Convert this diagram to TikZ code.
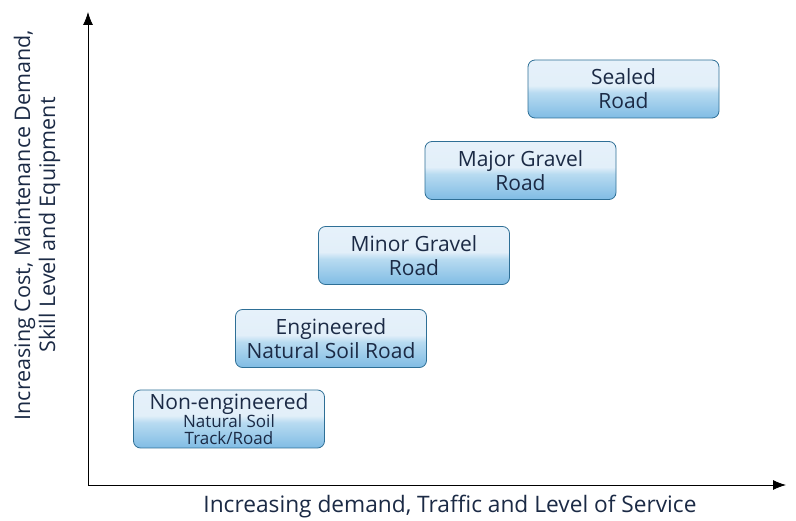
\documentclass[tikz,border=0pt]{standalone}
\usepackage{fontspec}
\setmainfont{Open Sans}
\usetikzlibrary{arrows.meta, positioning}
\definecolor{roadtext}{HTML}{1B2A45}
\definecolor{roadedge}{HTML}{2E6F96}
\definecolor{roadtop}{HTML}{E6F1FA}
\definecolor{roadlight}{HTML}{E2EFF9}
\definecolor{roadmid}{HTML}{B8DBF1}
\definecolor{roadbottom}{HTML}{80BCE4}
\pgfdeclareverticalshading{glossy}{100bp}{color(0bp)=(roadbottom); color(25bp)=(roadbottom);
    color(47bp)=(roadmid); color(53bp)=(roadlight); color(75bp)=(roadtop); color(100bp)=(roadtop)}

\begin{document}
\begin{tikzpicture}[
    x=1pt, y=-1pt,
    every node/.style={font=\fontsize{21}{24}\selectfont, text=roadtext},
    road/.style={rounded corners=7pt, draw=roadedge, thick, shading=glossy,
        minimum width=191pt, minimum height=58pt, inner sep=0pt, align=center},
    axis/.style={thick, -{Latex[length=13pt, width=10pt]}},
    label/.style={font=\fontsize{21.5}{25}\selectfont, align=center},
]
\useasboundingbox (0,0) rectangle (796,521);

% Axes
\coordinate (O) at (88,485);
\coordinate (ytop) at (88,12);
\coordinate (xend) at (786,485);
\draw[axis] (O) -- (ytop);
\draw[axis] (O) -- (xend);

% Road classes
\node[road] (natural) at (229,419) {Non-engineered\\[-6pt]
    {\fontsize{17}{17}\selectfont Natural Soil}\\[-7pt]
    {\fontsize{17}{17}\selectfont Track/Road}};
\node[road] (engineered) at (331,338.5) {Engineered\\Natural Soil Road};
\node[road] (minor) at (414,255.5) {Minor Gravel\\Road};
\node[road] (major) at (520.5,170.5) {Major Gravel\\Road};
\node[road] (sealed) at (623.5,89) {Sealed\\Road};

% Axis labels
\node[label, font=\fontsize{22.7}{25}\selectfont] (xlabel) at (450,507) {Increasing demand, Traffic and Level of Service};
\node[label, rotate=90] (ylabel) at (37,225) {Increasing Cost, Maintenance Demand,\\Skill Level and Equipment};

\end{tikzpicture}
\end{document}
